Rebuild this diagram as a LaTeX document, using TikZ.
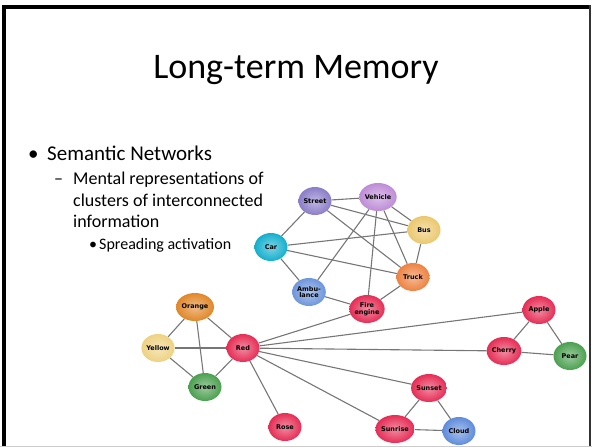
\documentclass[tikz,border=0pt]{standalone}
\usepackage{fontspec}
\setmainfont{Carlito}
\newfontfamily\nodefont{DejaVu Sans}
\usetikzlibrary{shapes.geometric,backgrounds}
\definecolor{cRed}{RGB}{230,45,85}
\definecolor{cStreet}{RGB}{140,125,200}
\definecolor{cVehicle}{RGB}{190,140,215}
\definecolor{cBus}{RGB}{235,200,110}
\definecolor{cCar}{RGB}{20,175,205}
\definecolor{cTruck}{RGB}{238,130,65}
\definecolor{cAmb}{RGB}{110,150,220}
\definecolor{cOrange}{RGB}{225,135,40}
\definecolor{cYellow}{RGB}{238,210,130}
\definecolor{cGreen}{RGB}{75,160,80}
\definecolor{cCloud}{RGB}{95,140,220}
\definecolor{cEdge}{RGB}{118,118,118}
\tikzset{
  concept/.style={ellipse, minimum width=33pt, minimum height=28pt, inner sep=0pt,
    align=center, font=\nodefont\bfseries\fontsize{6.5}{6.6}\selectfont,
    shading=radial, outer color=#1, inner color=#1!55!white},
  link/.style={draw=cEdge, line width=1.1pt},
  lvlone/.style={anchor=base west, inner sep=0pt, font=\fontsize{21}{25}\selectfont},
  lvltwo/.style={anchor=base west, inner sep=0pt, font=\fontsize{18}{22}\selectfont},
  lvlthree/.style={anchor=base west, inner sep=0pt, font=\fontsize{16}{19}\selectfont}
}
\begin{document}
\begin{tikzpicture}[x=1pt,y=-1pt]
\useasboundingbox (0,0) rectangle (592,447);
% frame
\fill[black] (2,5) rectangle (5.5,447);
\fill[black] (2,5) rectangle (590,8.5);
\fill[black!80] (589,5) rectangle (590.5,447);
\fill[black!20] (0,445.5) rectangle (592,447);
% text
\node[anchor=base, inner sep=0pt, font=\fontsize{36}{40}\selectfont] (title) at (296,78) {Long-term Memory};
\node[lvlone] (b1) at (28,160) {•};
\node[lvlone] (t1) at (47,160) {Semantic Networks};
\node[lvltwo] (d1) at (54,184) {–};
\node[lvltwo] (t2) at (73,184) {Mental representations of};
\node[lvltwo] (t3) at (73,206) {clusters of interconnected};
\node[lvltwo] (t4) at (73,227) {information};
\node[lvlthree] (b2) at (89,249) {•};
\node[lvlthree] (t5) at (99,249) {Spreading activation};
% nodes
\node[concept=cStreet] (street) at (315,201) {Street};
\node[concept=cVehicle] (vehicle) at (378,197) {Vehicle};
\node[concept=cBus] (bus) at (424,230) {Bus};
\node[concept=cCar] (car) at (271,247) {Car};
\node[concept=cTruck] (truck) at (413,277) {Truck};
\node[concept=cAmb] (amb) at (309,292) {Ambu-\\lance};
\node[concept=cRed] (fire) at (367,309) {Fire\\engine};
\node[concept=cOrange] (orange) at (195,307) {Orange};
\node[concept=cYellow] (yellow) at (158,348) {Yellow};
\node[concept=cRed] (red) at (243,348) {Red};
\node[concept=cGreen] (green) at (205,387) {Green};
\node[concept=cRed] (rose) at (285,427) {Rose};
\node[concept=cRed] (apple) at (539,310) {Apple};
\node[concept=cRed] (cherry) at (504,351) {Cherry};
\node[concept=cGreen] (pear) at (570,356) {Pear};
\node[concept=cRed] (sunset) at (429,388) {Sunset};
\node[concept=cRed] (sunrise) at (395,429) {Sunrise};
\node[concept=cCloud] (cloud) at (459,431) {Cloud};
\begin{pgfonlayer}{background}
\draw[link] (street) -- (vehicle);
\draw[link] (street) -- (bus);
\draw[link] (street) -- (truck);
\draw[link] (street) -- (car);
\draw[link] (vehicle) -- (bus);
\draw[link] (vehicle) -- (truck);
\draw[link] (vehicle) -- (amb);
\draw[link] (vehicle) -- (fire);
\draw[link] (car) -- (bus);
\draw[link] (car) -- (truck);
\draw[link] (car) -- (amb);
\draw[link] (bus) -- (truck);
\draw[link] (truck) -- (fire);
\draw[link] (amb) -- (fire);
\draw[link] (red) -- (fire);
\draw[link] (red) -- (apple);
\draw[link] (red) -- (cherry);
\draw[link] (red) -- (sunset);
\draw[link] (red) -- (sunrise);
\draw[link] (red) -- (rose);
\draw[link] (orange) -- (yellow);
\draw[link] (orange) -- (green);
\draw[link] (orange) -- (red);
\draw[link] (yellow) -- (red);
\draw[link] (yellow) -- (green);
\draw[link] (green) -- (red);
\draw[link] (apple) -- (cherry);
\draw[link] (apple) -- (pear);
\draw[link] (cherry) -- (pear);
\draw[link] (sunset) -- (sunrise);
\draw[link] (sunset) -- (cloud);
\draw[link] (sunrise) -- (cloud);
\end{pgfonlayer}
\end{tikzpicture}
\end{document}
